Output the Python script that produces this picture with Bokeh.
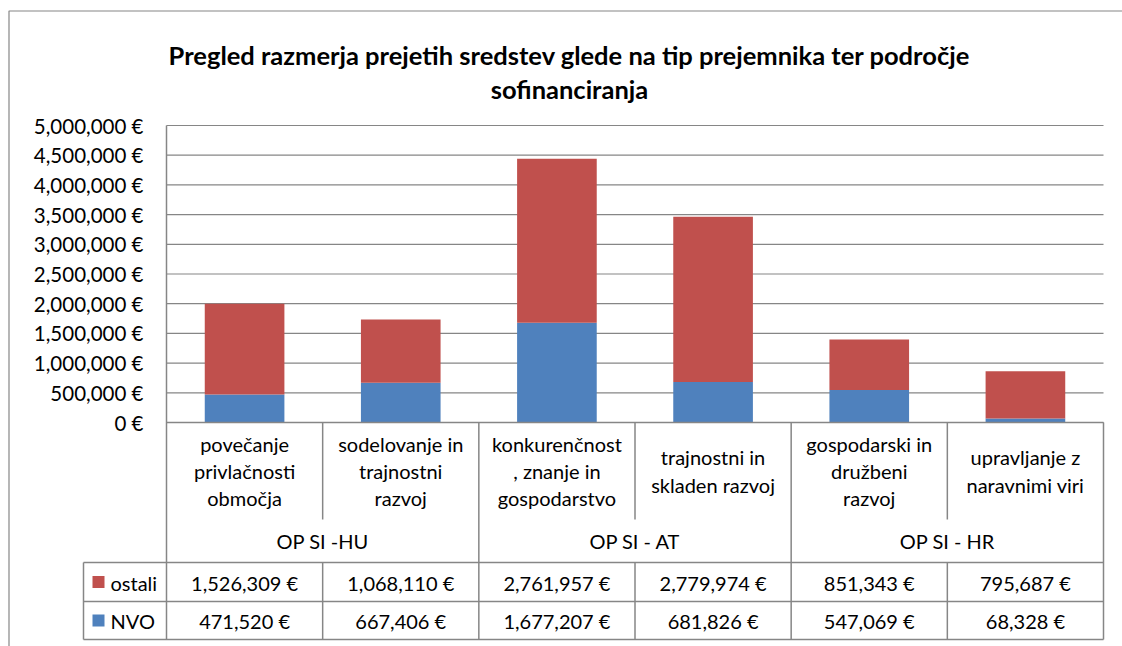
from bokeh.plotting import figure
from bokeh.models import Range1d
from bokeh.core.properties import value
from bokeh.embed import file_html
from bokeh.resources import INLINE

# ---------------- data ----------------
title_lines = ["Pregled razmerja prejetih sredstev glede na tip prejemnika ter področje",
               "sofinanciranja"]
categories = ["povečanje\nprivlačnosti\nobmočja",
              "sodelovanje in\ntrajnostni\nrazvoj",
              "konkurenčnost\n, znanje in\ngospodarstvo",
              "trajnostni in\nskladen razvoj",
              "gospodarski in\ndružbeni\nrazvoj",
              "upravljanje z\nnaravnimi viri"]
groups = ["OP SI -HU", "OP SI - AT", "OP SI - HR"]
series_names = ["ostali", "NVO"]
ostali = [1526309, 1068110, 2761957, 2779974, 851343, 795687]
nvo = [471520, 667406, 1677207, 681826, 547069, 68328]
y_ticks = [0, 500000, 1000000, 1500000, 2000000, 2500000,
           3000000, 3500000, 4000000, 4500000, 5000000]

# ---------------- style / layout ----------------
RED = "#C0504D"
BLUE = "#4F81BD"
GRID = "#868686"
FONT = "Lato"

W, H = 1122, 646
PAGE_L, PAGE_T = 0, 0
PLOT_L, PLOT_R = 166, 1103
PLOT_T, ZERO_Y = 125, 422
CAT_B, GROUP_B, ROW1_B, ROW2_B = 519, 562, 601, 639
LEG_L = 83

ncat = len(categories)
colw = (PLOT_R - PLOT_L) / ncat
ymax = y_ticks[-1]
per_px = ymax / (ZERO_Y - PLOT_T)

x_start = (PAGE_L - PLOT_L) / colw
x_end = (PAGE_L + W - PLOT_L) / colw
y_start = -(PAGE_T + H - ZERO_Y) * per_px
y_end = (ZERO_Y - PAGE_T) * per_px

p = figure(width=W, height=H, x_range=Range1d(x_start, x_end),
           y_range=Range1d(y_start, y_end), output_backend="svg",
           toolbar_location=None, x_axis_location=None, y_axis_location=None,
           min_border=0, outline_line_color=None)
p.extra_x_ranges = {"px": Range1d(PAGE_L, PAGE_L + W)}
p.extra_y_ranges = {"py": Range1d(PAGE_T + H, PAGE_T)}
for g in p.grid:
    g.visible = False
p.background_fill_color = "white"
p.border_fill_color = "white"

# outer chart frame (cropped)
p.line(x=[8.5, 8.5, PAGE_L + W], y=[PAGE_T + H, 10.5, 10.5],
       x_range_name="px", y_range_name="py", line_color=GRID, line_width=1.2)

# gridlines
p.segment(x0=[0] * len(y_ticks), x1=[ncat] * len(y_ticks), y0=y_ticks, y1=y_ticks,
          line_color=GRID, line_width=1.2)

# bars
xs = [i + 0.5 for i in range(ncat)]
p.vbar(x=xs, bottom=0, top=nvo, width=0.51, fill_color=BLUE, line_color=None)
p.vbar(x=xs, bottom=nvo, top=[a + b for a, b in zip(nvo, ostali)], width=0.51,
       fill_color=RED, line_color=None)

# y tick labels
p.text(x=[143] * len(y_ticks), y=y_ticks, text=[f"{t:,} €" for t in y_ticks],
       x_range_name="px", text_align="right", text_baseline="middle",
       text_font=value(FONT), text_font_size="20.5px", text_color="black")

# table lines
leg = (LEG_L - PLOT_L) / colw
x0s, x1s, y0s, y1s = [], [], [], []
def seg(a, b, c, d):
    x0s.append(a); x1s.append(b); y0s.append(c); y1s.append(d)

seg(0, ncat, ZERO_Y, ZERO_Y)
for yy in (GROUP_B, ROW1_B, ROW2_B):
    seg(leg, ncat, yy, yy)
seg(0, 0, PLOT_T, ROW2_B)
seg(leg, leg, GROUP_B, ROW2_B)
per_group = ncat // len(groups)
for i in range(1, ncat + 1):
    if i % per_group == 0:
        seg(i, i, ZERO_Y, ROW2_B)
    else:
        seg(i, i, ZERO_Y, CAT_B)
        seg(i, i, GROUP_B, ROW2_B)
p.segment(x0=x0s, x1=x1s, y0=y0s, y1=y1s, y_range_name="py",
          line_color=GRID, line_width=1.5)

# category labels
p.text(x=xs, y=[(ZERO_Y + CAT_B) / 2] * ncat, text=categories, y_range_name="py",
       text_align="center", text_baseline="middle", text_line_height=1.13,
       text_font=value(FONT), text_font_size="20px", text_color="black")

# group labels
gx = [per_group * (k + 0.5) for k in range(len(groups))]
p.text(x=gx, y=[(CAT_B + GROUP_B) / 2] * len(groups), text=groups, y_range_name="py",
       text_align="center", text_baseline="middle",
       text_font=value(FONT), text_font_size="20px", text_color="black")

# table values
for vals, (ya, yb) in ((ostali, (GROUP_B, ROW1_B)), (nvo, (ROW1_B, ROW2_B))):
    p.text(x=xs, y=[(ya + yb) / 2 + 0.5] * ncat, text=[f"{v:,} €" for v in vals],
           y_range_name="py", text_align="center", text_baseline="middle",
           text_font=value(FONT), text_font_size="20px", text_color="black")

# legend keys
ly = [(GROUP_B + ROW1_B) / 2, (ROW1_B + ROW2_B) / 2]
p.rect(x=[98, 98], y=ly, width=12, height=12, x_range_name="px", y_range_name="py",
       fill_color=[RED, BLUE], line_color=None)
p.text(x=[110, 110], y=[v + 0.5 for v in ly], text=series_names, x_range_name="px",
       y_range_name="py", text_align="left", text_baseline="middle",
       text_font=value(FONT), text_font_size="20px", text_color="black")

# title
p.text(x=[569, 569], y=[54, 88], text=title_lines, x_range_name="px", y_range_name="py",
       text_align="center", text_baseline="alphabetic",
       text_font=value(FONT), text_font_style="bold", text_font_size="25.5px",
       text_color="black")

open("out.html", "w").write(file_html(p, INLINE))
